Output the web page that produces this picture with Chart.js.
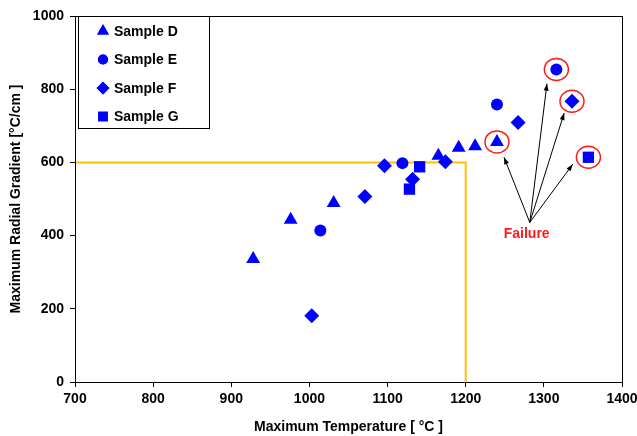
<!DOCTYPE html>
<html>
<head>
<meta charset="utf-8">
<script src="https://cdn.jsdelivr.net/npm/chart.js@4.4.0/dist/chart.umd.min.js"></script>
<style>
  body { margin: 0; background: #fff; }
  #wrap { width: 637px; height: 436px; }
</style>
</head>
<body>
<div id="wrap"><canvas id="Gradient"></canvas></div>
<script>
// values
var SampleD = [[928,336],[976,443],[1031,489],[1165,618],[1191,640],[1212,644],[1240,656]];
var SampleE = [[1014,414],[1119,598],[1240,758],[1316,854]];
var SampleF = [[1003,181],[1071,507],[1096,591],[1132,554],[1174,602],[1267,709],[1336,767]];
var SampleG = [[1128,527],[1141,588],[1357,614]];
// limit line (yellow)
var LimitLine = [[700,600],[1200,600],[1200,0]];
// failed points: circled and pointed at
var FailurePoints = [[1240,656],[1316,854],[1336,767],[1357,614]];
var ArrowTips = [[1249,614],[1304,815],[1326,735],[1337,595]];
var ArrowBase = [1282,436];
var FailureLabel = [1278,404];

var SampleNames = ['Sample D','Sample E','Sample F','Sample G'];
var SampleShapes = ['triangle','circle','rectRot','rect'];
var SampleRadius = [8,6,7.5,8];

function toXY(arr){
    var out = [];
    for(var i=0;i<arr.length;i++){ out.push({x:arr[i][0], y:arr[i][1]}); }
    return out;
}

var FONT = '"Liberation Sans", Arial, sans-serif';

const failurePlugin = {
    id: 'failure',
    afterDatasetsDraw(chart){
        const c = chart.ctx, xs = chart.scales.x, ys = chart.scales.y;
        c.save();
        // red circles
        c.strokeStyle = '#ff1a1a';
        c.lineWidth = 1.5;
        for(var i=0;i<FailurePoints.length;i++){
            var px = xs.getPixelForValue(FailurePoints[i][0]);
            var py = ys.getPixelForValue(FailurePoints[i][1]);
            c.beginPath();
            c.ellipse(px, py, 12, 11, 0, 0, Math.PI*2);
            c.stroke();
        }
        // arrows
        var bx = xs.getPixelForValue(ArrowBase[0]);
        var by = ys.getPixelForValue(ArrowBase[1]);
        c.strokeStyle = '#000';
        c.fillStyle = '#000';
        c.lineWidth = 1;
        for(var j=0;j<ArrowTips.length;j++){
            var tx = xs.getPixelForValue(ArrowTips[j][0]);
            var ty = ys.getPixelForValue(ArrowTips[j][1]);
            c.beginPath(); c.moveTo(bx,by); c.lineTo(tx,ty); c.stroke();
            var a = Math.atan2(ty-by, tx-bx);
            c.beginPath();
            c.moveTo(tx,ty);
            c.lineTo(tx-7*Math.cos(a)+2.5*Math.sin(a), ty-7*Math.sin(a)-2.5*Math.cos(a));
            c.lineTo(tx-7*Math.cos(a)-2.5*Math.sin(a), ty-7*Math.sin(a)+2.5*Math.cos(a));
            c.closePath(); c.fill();
        }
        // label
        c.fillStyle = '#ff1a1a';
        c.font = 'bold 14px ' + FONT;
        c.textAlign = 'center';
        c.textBaseline = 'middle';
        c.fillText('Failure', xs.getPixelForValue(FailureLabel[0]), ys.getPixelForValue(FailureLabel[1]));

        // frame round the plot
        var ca = chart.chartArea;
        c.strokeStyle = '#000';
        c.lineWidth = 1;
        c.strokeRect(ca.left+0.5, ca.top+0.5, ca.right-ca.left, ca.bottom-ca.top);

        // legend box
        var lx = ca.left + 3, ly = ca.top, lw = 131, lh = 112;
        c.fillStyle = '#fff';
        c.fillRect(lx, ly, lw, lh);
        c.strokeStyle = '#000';
        c.strokeRect(lx+0.5, ly+0.5, lw, lh);
        c.font = 'bold 14px ' + FONT;
        c.textAlign = 'left';
        for(var k=0;k<SampleNames.length;k++){
            var yy = ly + 15 + k*28.5;
            c.fillStyle = '#0000ff';
            Chart.helpers.drawPoint(c, {pointStyle: SampleShapes[k], radius: SampleRadius[k]*0.85, borderWidth: 0}, lx+25, yy);
            c.fill();
            c.fillStyle = '#000';
            c.fillText(SampleNames[k], lx+36, yy+1);
        }
        c.restore();
    }
};

var datasets = [];
var sets = [SampleD, SampleE, SampleF, SampleG];
for(var s=0;s<sets.length;s++){
    datasets.push({
        label: SampleNames[s],
        data: toXY(sets[s]),
        pointStyle: SampleShapes[s],
        pointRadius: SampleRadius[s],
        backgroundColor: '#0000ff',
        borderColor: '#0000ff',
        borderWidth: 0,
        showLine: false
    });
}
datasets.push({
    label: 'limit',
    data: toXY(LimitLine),
    showLine: true,
    pointRadius: 0,
    borderColor: '#ffc000',
    borderWidth: 2,
    fill: false
});

function plain(v){ return String(v); }

const ctx = document.getElementById('Gradient').getContext('2d');
const GradientChart = new Chart(ctx, {
    type: 'scatter',
    data: { datasets: datasets },
    options: {
        responsive: true,
        maintainAspectRatio: false,
        animation: false,
        layout: { padding: { top: 16, right: 15, left: 0, bottom: 0 } },
        plugins: { legend: { display: false }, tooltip: { enabled: false } },
        scales: {
            x: {
                type: 'linear',
                min: 700, max: 1400,
                grid: { display: true, drawOnChartArea: false, drawTicks: true, tickLength: 5, color: '#000' },
                border: { display: true, color: '#000' },
                ticks: { stepSize: 100, callback: plain, color: '#000', font: { family: FONT, size: 14, weight: 'bold' }, padding: 4 },
                title: { display: true, text: 'Maximum Temperature [ °C ]', color: '#000', font: { family: FONT, size: 14, weight: 'bold' }, padding: { top: 2, bottom: 0 } },
                afterFit: function(scale){ scale.height = 54; scale.paddingRight = 15; }
            },
            y: {
                type: 'linear',
                min: 0, max: 1000,
                grid: { display: true, drawOnChartArea: false, drawTicks: true, tickLength: 5, color: '#000' },
                border: { display: true, color: '#000' },
                ticks: { stepSize: 200, callback: plain, color: '#000', font: { family: FONT, size: 14, weight: 'bold' }, padding: 6 },
                title: { display: true, text: 'Maximum Radial Gradient [°C/cm ]', color: '#000', font: { family: FONT, size: 14, weight: 'bold' }, padding: { top: 8, bottom: 4 } },
                afterFit: function(scale){ scale.width = 75; }
            }
        }
    },
    plugins: [failurePlugin]
});
</script>
</body>
</html>
